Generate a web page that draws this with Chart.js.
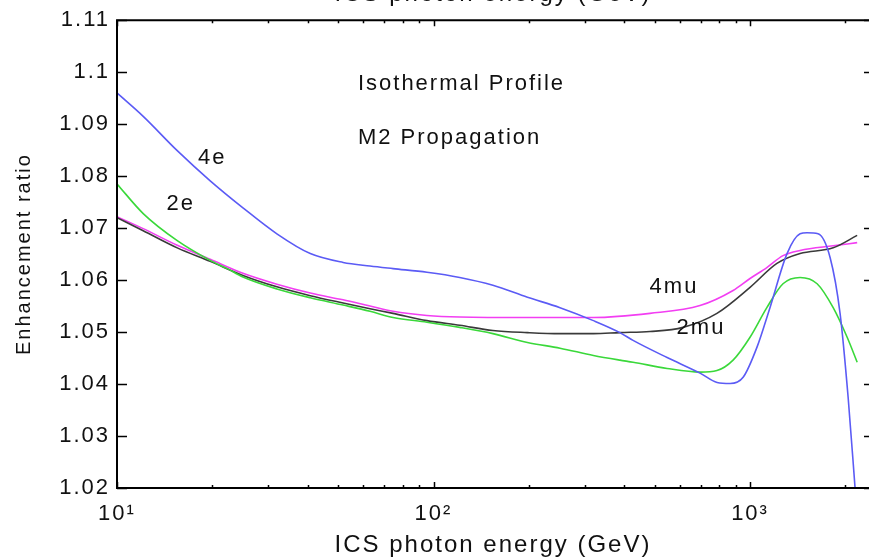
<!DOCTYPE html>
<html>
<head>
<meta charset="utf-8">
<script src="https://cdn.jsdelivr.net/npm/chart.js@4.4.1/dist/chart.umd.min.js"></script>
<style>
  html, body { margin: 0; padding: 0; background: #fff; }
  #wrap { width: 869px; height: 560px; }
</style>
</head>
<body>
<div id="wrap"><canvas id="chart"></canvas></div>
<script>
// ICS photon energy (GeV) and enhancement ratio for each channel
const energy4e = [10, 12.1, 15.5, 19.7, 25, 32, 40.8, 51.8, 63, 74.5, 95.3, 121, 154, 198, 251, 320, 388, 427, 547, 695, 787, 865, 951, 1052, 1156, 1309, 1439, 1514, 1640, 1791, 1925, 2041, 2150];
const ratio4e = [1.0960, 1.0915, 1.0849, 1.0791, 1.0739, 1.0689, 1.0651, 1.0634, 1.0627, 1.0622, 1.0615, 1.0605, 1.0590, 1.0567, 1.0547, 1.0522, 1.0499, 1.0484, 1.0451, 1.0421, 1.0403, 1.0401, 1.0413, 1.0471, 1.0547, 1.0651, 1.0689, 1.0691, 1.0689, 1.0643, 1.0536, 1.0375, 1.0195];

const energy2e = [10, 12.1, 15.5, 19.7, 22.3, 25, 32, 40.8, 51.8, 63, 74.5, 95.3, 121, 154, 198, 251, 320, 388, 427, 547, 695, 786, 884, 1000, 1130, 1271, 1439, 1629, 1831, 2027, 2180];
const ratio2e = [1.0785, 1.0728, 1.0676, 1.0638, 1.0622, 1.0606, 1.0583, 1.0566, 1.0552, 1.0540, 1.0528, 1.0519, 1.0509, 1.0497, 1.0480, 1.0469, 1.0455, 1.0446, 1.0442, 1.0430, 1.0423, 1.0426, 1.0446, 1.0490, 1.0547, 1.0593, 1.0605, 1.0593, 1.0547, 1.0490, 1.0442];

const energy2mu = [10, 12.1, 15.5, 19.7, 25, 32, 40.8, 51.8, 63, 74.5, 95.3, 121, 154, 198, 251, 320, 388, 483, 614, 786, 1000, 1216, 1439, 1831, 2180];
const ratio2mu = [1.0720, 1.0695, 1.0662, 1.0636, 1.0609, 1.0587, 1.0570, 1.0556, 1.0545, 1.0536, 1.0522, 1.0513, 1.0503, 1.0499, 1.0497, 1.0497, 1.0499, 1.0501, 1.0509, 1.0536, 1.0586, 1.0632, 1.0651, 1.0662, 1.0686];

const energy4mu = [10, 12.1, 15.5, 19.7, 25, 32, 40.8, 51.8, 63, 74.5, 95.3, 121, 198, 320, 483, 695, 884, 1000, 1130, 1271, 1439, 1831, 2180];
const ratio4mu = [1.0722, 1.0699, 1.0667, 1.0640, 1.0613, 1.0592, 1.0575, 1.0562, 1.0550, 1.0540, 1.0532, 1.0529, 1.0528, 1.0528, 1.0536, 1.0551, 1.0580, 1.0603, 1.0624, 1.0647, 1.0657, 1.0666, 1.0672];

const energyTicks = [10, 20, 30, 40, 50, 60, 70, 80, 90, 100, 200, 300, 400, 500, 600, 700, 800, 900, 1000, 2000];
const ratioTicks = [1.02, 1.03, 1.04, 1.05, 1.06, 1.07, 1.08, 1.09, 1.10, 1.11];

// text placed inside the plot, at (energy, ratio)
const notes = [
    { text: 'Isothermal Profile', e: 57.7, r: 1.0977, align: 'left' },
    { text: 'M2 Propagation', e: 57.7, r: 1.0874, align: 'left' },
    { text: '4e', e: 20, r: 1.0835, align: 'center' },
    { text: '2e', e: 15.9, r: 1.0747, align: 'center' },
    { text: '4mu', e: 575, r: 1.0586, align: 'center' },
    { text: '2mu', e: 700, r: 1.0507, align: 'center' }
];

const FONT = 'Liberation Sans, Arial, Helvetica, sans-serif';
const sup = { 1: '\u00b9', 2: '\u00b2', 3: '\u00b3' };

function points(xs, ys) {
    return xs.map((v, i) => ({ x: v, y: ys[i] }));
}

function series(label, xs, ys, color) {
    return {
        label: label,
        data: points(xs, ys),
        borderColor: color,
        borderWidth: 1.6,
        pointRadius: 0,
        fill: false,
        cubicInterpolationMode: 'monotone'
    };
}

const spacing = {
    id: 'spacing',
    beforeDraw(chart) {
        chart.ctx.letterSpacing = '2px';
    }
};

// mathematica style frame with inward ticks, notes and the clipped top title
const frame = {
    id: 'frame',
    afterDraw(chart) {
        const ctx = chart.ctx;
        const a = chart.chartArea;
        const xs = chart.scales.x;
        const ys = chart.scales.y;
        ctx.save();
        ctx.strokeStyle = '#000';
        ctx.lineWidth = 2;
        ctx.beginPath();
        ctx.moveTo(a.right + 2, a.top);
        ctx.lineTo(a.left, a.top);
        ctx.lineTo(a.left, a.bottom);
        ctx.lineTo(a.right + 2, a.bottom);
        ctx.stroke();

        ctx.lineWidth = 1.5;
        ctx.beginPath();
        energyTicks.forEach(v => {
            const px = Math.round(xs.getPixelForValue(v)) + 0.5;
            const major = Number.isInteger(Math.log10(v));
            const len = major ? 6 : 3;
            ctx.moveTo(px, a.bottom);
            ctx.lineTo(px, a.bottom - len);
            ctx.moveTo(px, a.top);
            ctx.lineTo(px, a.top + len);
        });
        ratioTicks.forEach(v => {
            const py = Math.round(ys.getPixelForValue(v)) + 0.5;
            ctx.moveTo(a.left, py);
            ctx.lineTo(a.left + 10, py);
            ctx.moveTo(a.right, py);
            ctx.lineTo(a.right - 5, py);
        });
        ctx.stroke();

        ctx.fillStyle = '#111';
        ctx.letterSpacing = '2px';
        ctx.font = '22px ' + FONT;
        ctx.textBaseline = 'middle';
        notes.forEach(n => {
            ctx.textAlign = n.align;
            ctx.fillText(n.text, xs.getPixelForValue(n.e), ys.getPixelForValue(n.r));
        });

        ctx.font = '24px ' + FONT;
        ctx.textAlign = 'center';
        ctx.textBaseline = 'alphabetic';
        ctx.fillText('ICS photon energy (GeV)', (a.left + a.right) / 2, 1);
        ctx.restore();
    }
};

new Chart(document.getElementById('chart'), {
    type: 'line',
    data: {
        datasets: [
            series('4e', energy4e, ratio4e, '#5b5bf5'),
            series('2e', energy2e, ratio2e, '#3ad83a'),
            series('2mu', energy2mu, ratio2mu, '#3a3a3a'),
            series('4mu', energy4mu, ratio4mu, '#f23ef2')
        ]
    },
    options: {
        responsive: true,
        maintainAspectRatio: false,
        animation: false,
        layout: { padding: { top: 19, right: 0, left: 0, bottom: 0 } },
        plugins: {
            legend: { display: false },
            tooltip: { enabled: false }
        },
        scales: {
            x: {
                type: 'logarithmic',
                min: 10,
                max: 2376,
                grid: { display: false, drawTicks: false },
                border: { display: false },
                afterBuildTicks(scale) {
                    scale.ticks = energyTicks.map(v => ({ value: v }));
                },
                afterFit(scale) {
                    scale.height = 72;
                },
                ticks: {
                    autoSkip: false,
                    maxRotation: 0,
                    padding: 13,
                    color: '#111',
                    font: { family: FONT, size: 22 },
                    callback(v) {
                        const p = Math.log10(v);
                        return Number.isInteger(p) ? '10' + sup[p] : '';
                    }
                },
                title: {
                    display: true,
                    text: 'ICS photon energy (GeV)',
                    color: '#111',
                    font: { family: FONT, size: 24 },
                    padding: { top: 0, bottom: 0 }
                }
            },
            y: {
                min: 1.02,
                max: 1.11,
                grid: { display: false, drawTicks: false },
                border: { display: false },
                afterBuildTicks(scale) {
                    scale.ticks = ratioTicks.map(v => ({ value: v }));
                },
                afterFit(scale) {
                    scale.width = 117;
                },
                ticks: {
                    padding: 7,
                    color: '#111',
                    font: { family: FONT, size: 22 },
                    callback(v) {
                        return String(Number(v.toFixed(2)));
                    }
                },
                title: {
                    display: true,
                    text: 'Enhancement ratio',
                    color: '#111',
                    font: { family: FONT, size: 20 },
                    padding: { top: 12, bottom: 0 }
                }
            }
        }
    },
    plugins: [spacing, frame]
});
</script>
</body>
</html>
